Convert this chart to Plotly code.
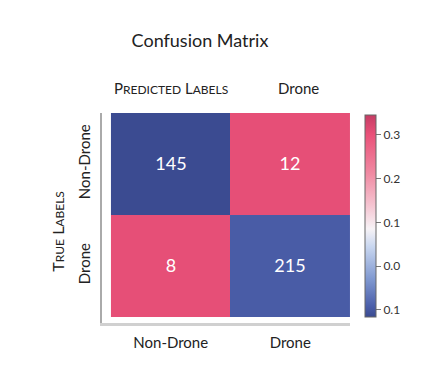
import plotly.graph_objects as go

pred_labels = ["Non-Drone", "Drone"]
true_labels = ["Non-Drone", "Drone"]
counts = [[145, 12], [8, 215]]
color_values = [[-0.115, 0.305], [0.305, -0.095]]
cbar_ticks = [0.3, 0.2, 0.1, 0.0, -0.1]
cbar_ticktext = ["0.3", "0.2", "0.1", "0.0", "0.1"]

FONT = "Lato, Open Sans, sans-serif"

zmin, zmax = -0.116, 0.345
def n(v):
    return (v - zmin) / (zmax - zmin)

colorscale = [
    [0.0, "#3a4a90"],
    [n(-0.09), "#4c60ab"],
    [n(-0.03), "#7f98d0"],
    [n(0.045), "#c9d7f0"],
    [n(0.085), "#f7f3f6"],
    [n(0.14), "#f5c3d0"],
    [n(0.21), "#f08ba3"],
    [n(0.3), "#ea5179"],
    [1.0, "#c53c64"],
]

W, H = 431, 359
ML, MR, MT, MB = 94, 89, 105, 44
plot_w = W - ML - MR
plot_h = H - MT - MB

fig = go.Figure(go.Heatmap(
    z=color_values,
    x=[0, 1],
    y=[0, 1],
    text=counts,
    texttemplate="%{text}",
    textfont=dict(family=FONT, size=18, color="white"),
    colorscale=colorscale,
    zmin=zmin,
    zmax=zmax,
    xgap=0, ygap=0,
    colorbar=dict(
        thickness=11,
        len=202, lenmode="pixels",
        x=(357 - ML) / plot_w, xanchor="left", xpad=0,
        y=6 / plot_h, yanchor="bottom", ypad=0,
        outlinecolor="#666", outlinewidth=1,
        tickvals=cbar_ticks, ticktext=cbar_ticktext,
        ticks="outside", ticklen=5, tickcolor="#777",
        tickfont=dict(family=FONT, size=12, color="#333"),
    ),
))

fig.update_xaxes(
    range=[-0.575, 1.5],
    tickvals=[0, 1], ticktext=pred_labels,
    showline=True, linecolor="#d0d0d0", linewidth=3,
    showgrid=False, zeroline=False,
    ticks="", ticklabelstandoff=4,
    tickfont=dict(family=FONT, size=15, color="#222"),
)
fig.update_yaxes(
    range=[1.56, -0.5],
    tickvals=[0, 1], ticktext=true_labels,
    tickangle=-90,
    showline=True, linecolor="#aaaaaa", linewidth=1.5,
    showgrid=False, zeroline=False,
    ticks="", ticklabelstandoff=4,
    tickfont=dict(family=FONT, size=15, color="#222"),
)

small = "<span style='font-size:12px'>"
fig.add_annotation(
    x=0, y=1, xref="x", yref="paper", yshift=25, yanchor="middle",
    text="P" + small + "REDICTED</span> L" + small + "ABELS</span>",
    showarrow=False, font=dict(family=FONT, size=15, color="#222"),
)
fig.add_annotation(
    x=1.07, y=1, xref="x", yref="paper", yshift=25, yanchor="middle",
    text=pred_labels[1],
    showarrow=False, font=dict(family=FONT, size=15, color="#222"),
)
fig.add_annotation(
    x=0, y=0.435, xref="paper", yref="paper", xshift=-44,
    xanchor="center", yanchor="middle", textangle=-90,
    text="T" + small + "RUE</span> L" + small + "ABELS</span>",
    showarrow=False, font=dict(family=FONT, size=16, color="#222"),
)

fig.update_layout(
    width=W, height=H,
    margin=dict(l=ML, r=MR, t=MT, b=MB),
    paper_bgcolor="white", plot_bgcolor="white",
    title=dict(text="Confusion Matrix", x=192 / W, xref="container",
               xanchor="center", y=1 - 33 / H, yanchor="middle",
               font=dict(family=FONT, size=18, color="#222")),
    showlegend=False,
)

fig.write_html("out.html")
